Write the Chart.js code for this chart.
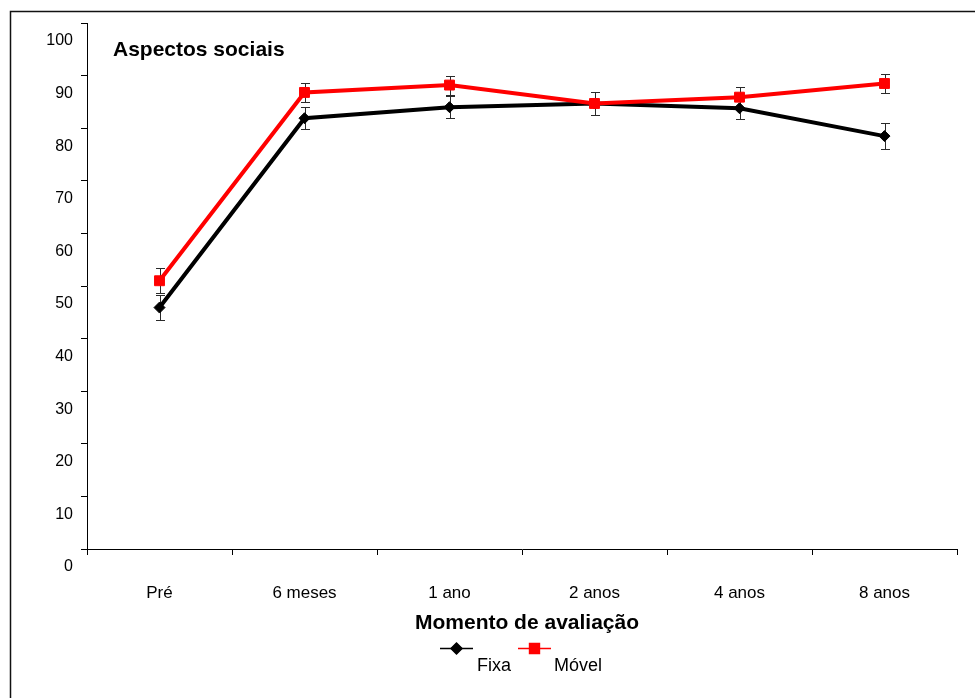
<!DOCTYPE html>
<html>
<head>
<meta charset="utf-8">
<script src="https://cdn.jsdelivr.net/npm/chart.js@4.4.1/dist/chart.umd.min.js"></script>
<style>
  html, body { margin: 0; padding: 0; background: #ffffff; }
  canvas { display: block; }
</style>
</head>
<body>
<canvas id="chart" width="975" height="698"></canvas>
<script>
// Avaliação ao longo do tempo - aspectos sociais
const categories = ['Pré', '6 meses', '1 ano', '2 anos', '4 anos', '8 anos'];
const fixaValues = [45.9, 81.9, 84.0, 84.7, 83.8, 78.5];
const fixaErrors = [2.3, 2.1, 2.1, 2.1, 2.1, 2.4];
const movelValues = [51.0, 86.8, 88.2, 84.7, 85.9, 88.5];
const movelErrors = [2.4, 1.8, 1.8, 2.1, 2.0, 1.8];
const yTickValues = [0, 10, 20, 30, 40, 50, 60, 70, 80, 90, 100];

const FONT = "'Liberation Sans', Arial, Helvetica, sans-serif";

// Vertical error bars with caps, drawn under the markers
const errorBars = {
  id: 'errorBars',
  beforeDatasetsDraw(chart) {
    const ctx = chart.ctx;
    const yScale = chart.scales.y;
    ctx.save();
    ctx.strokeStyle = '#2a2a2a';
    ctx.lineWidth = 1;
    chart.data.datasets.forEach((ds, i) => {
      const meta = chart.getDatasetMeta(i);
      meta.data.forEach((pt, j) => {
        const v = ds.data[j];
        const e = ds.errors[j];
        const yTop = Math.round(yScale.getPixelForValue(v + e)) + 0.5;
        const yBot = Math.round(yScale.getPixelForValue(v - e)) + 0.5;
        const x = Math.round(pt.x) + 0.5;
        ctx.beginPath();
        ctx.moveTo(x, yTop); ctx.lineTo(x, yBot);
        ctx.moveTo(x - 4.5, yTop); ctx.lineTo(x + 4.5, yTop);
        ctx.moveTo(x - 4.5, yBot); ctx.lineTo(x + 4.5, yBot);
        ctx.stroke();
      });
    });
    ctx.restore();
  }
};

// Frame, panel title, axis title and legend
const decorations = {
  id: 'decorations',
  afterDraw(chart) {
    const ctx = chart.ctx;
    ctx.save();
    ctx.strokeStyle = '#111111';
    ctx.lineWidth = 1.5;
    ctx.strokeRect(10.5, 11.5, 1100, 1100);

    ctx.fillStyle = '#000000';
    ctx.textBaseline = 'middle';
    ctx.font = 'bold 21px ' + FONT;
    ctx.textAlign = 'left';
    ctx.fillText('Aspectos sociais', 113, 50);

    ctx.textAlign = 'center';
    ctx.fillText('Momento de avaliação', 527, 623);

    // legend
    const items = [
      { ds: chart.data.datasets[1], x0: 440, x1: 473, tx: 477 },
      { ds: chart.data.datasets[0], x0: 518, x1: 551, tx: 554 }
    ];
    items.forEach(it => {
      const ds = it.ds;
      const ly = 648.5;
      ctx.strokeStyle = ds.borderColor;
      ctx.lineWidth = 1.5;
      ctx.beginPath();
      ctx.moveTo(it.x0, ly); ctx.lineTo(it.x1, ly);
      ctx.stroke();
      Chart.helpers.drawPoint(ctx, {
        pointStyle: ds.pointStyle,
        radius: ds.pointRadius,
        borderWidth: 1,
        rotation: 0
      }, (it.x0 + it.x1) / 2, ly);
      ctx.fillStyle = ds.pointBackgroundColor;
      ctx.strokeStyle = ds.pointBorderColor;
      ctx.fill();
      ctx.fillStyle = '#000000';
      ctx.font = '18px ' + FONT;
      ctx.textAlign = 'left';
      ctx.fillText(ds.label, it.tx, 666);
    });
    ctx.restore();
  }
};

new Chart(document.getElementById('chart'), {
  type: 'line',
  data: {
    labels: categories,
    datasets: [
      {
        label: 'Móvel',
        data: movelValues,
        errors: movelErrors,
        borderColor: '#ff0000',
        backgroundColor: '#ff0000',
        borderWidth: 4,
        pointStyle: 'rect',
        pointRadius: 7,
        pointBackgroundColor: '#ff0000',
        pointBorderColor: '#ff0000',
        pointBorderWidth: 1,
        tension: 0,
        order: 0
      },
      {
        label: 'Fixa',
        data: fixaValues,
        errors: fixaErrors,
        borderColor: '#000000',
        backgroundColor: '#000000',
        borderWidth: 4,
        pointStyle: 'rectRot',
        pointRadius: 5.5,
        pointBackgroundColor: '#000000',
        pointBorderColor: '#000000',
        pointBorderWidth: 1,
        tension: 0,
        order: 1
      }
    ]
  },
  options: {
    responsive: false,
    animation: false,
    devicePixelRatio: 1,
    layout: { padding: { top: 23, right: 18, left: 0, bottom: 0 } },
    plugins: {
      legend: { display: false },
      title: { display: false },
      tooltip: { enabled: false }
    },
    scales: {
      x: {
        type: 'category',
        offset: true,
        afterFit(s) { s.height = 149; },
        grid: {
          offset: true,
          drawOnChartArea: false,
          drawTicks: true,
          tickLength: 6,
          color: '#000000',
          lineWidth: 1
        },
        border: { display: true, color: '#000000', width: 1 },
        ticks: {
          color: '#000000',
          font: { family: FONT, size: 17 },
          padding: 28,
          maxRotation: 0,
          autoSkip: false
        }
      },
      y: {
        min: 0,
        max: 100,
        afterFit(s) { s.width = 87; },
        afterBuildTicks(s) { s.ticks = yTickValues.map(v => ({ value: v })); },
        grid: {
          drawOnChartArea: false,
          drawTicks: true,
          tickLength: 6,
          color: '#000000',
          lineWidth: 1
        },
        border: { display: true, color: '#000000', width: 1 },
        ticks: {
          color: '#000000',
          font: { family: FONT, size: 16 },
          padding: 8,
          labelOffset: 18,
          stepSize: 10
        }
      }
    }
  },
  plugins: [errorBars, decorations]
});
</script>
</body>
</html>
